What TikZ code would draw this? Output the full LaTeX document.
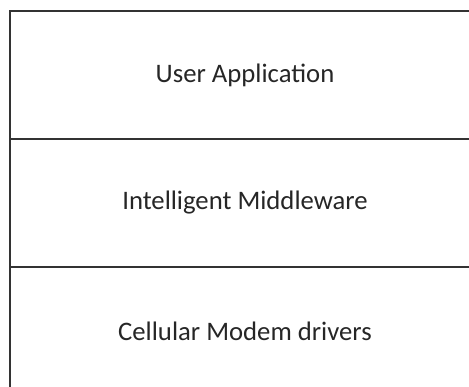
\documentclass[tikz,border=0pt]{standalone}
\usepackage{fontspec}
\setmainfont{Carlito}
\usetikzlibrary{positioning}

\begin{document}
\begin{tikzpicture}[font=\fontsize{19}{23}\selectfont,
 layer/.style={draw=black!80,line width=0.9pt,minimum width=11.75cm,minimum height=3.2cm,outer sep=0pt,align=center,text=black!85}]
\useasboundingbox (0,0) rectangle (11.725,-9.675);
\node[layer] (app) at (6.125,-1.875) {User Application};
\node[layer,below=0pt of app] (mid) {Intelligent Middleware};
\node[layer,below=0pt of mid] (drv) {Cellular Modem drivers};
\end{tikzpicture}
\end{document}
